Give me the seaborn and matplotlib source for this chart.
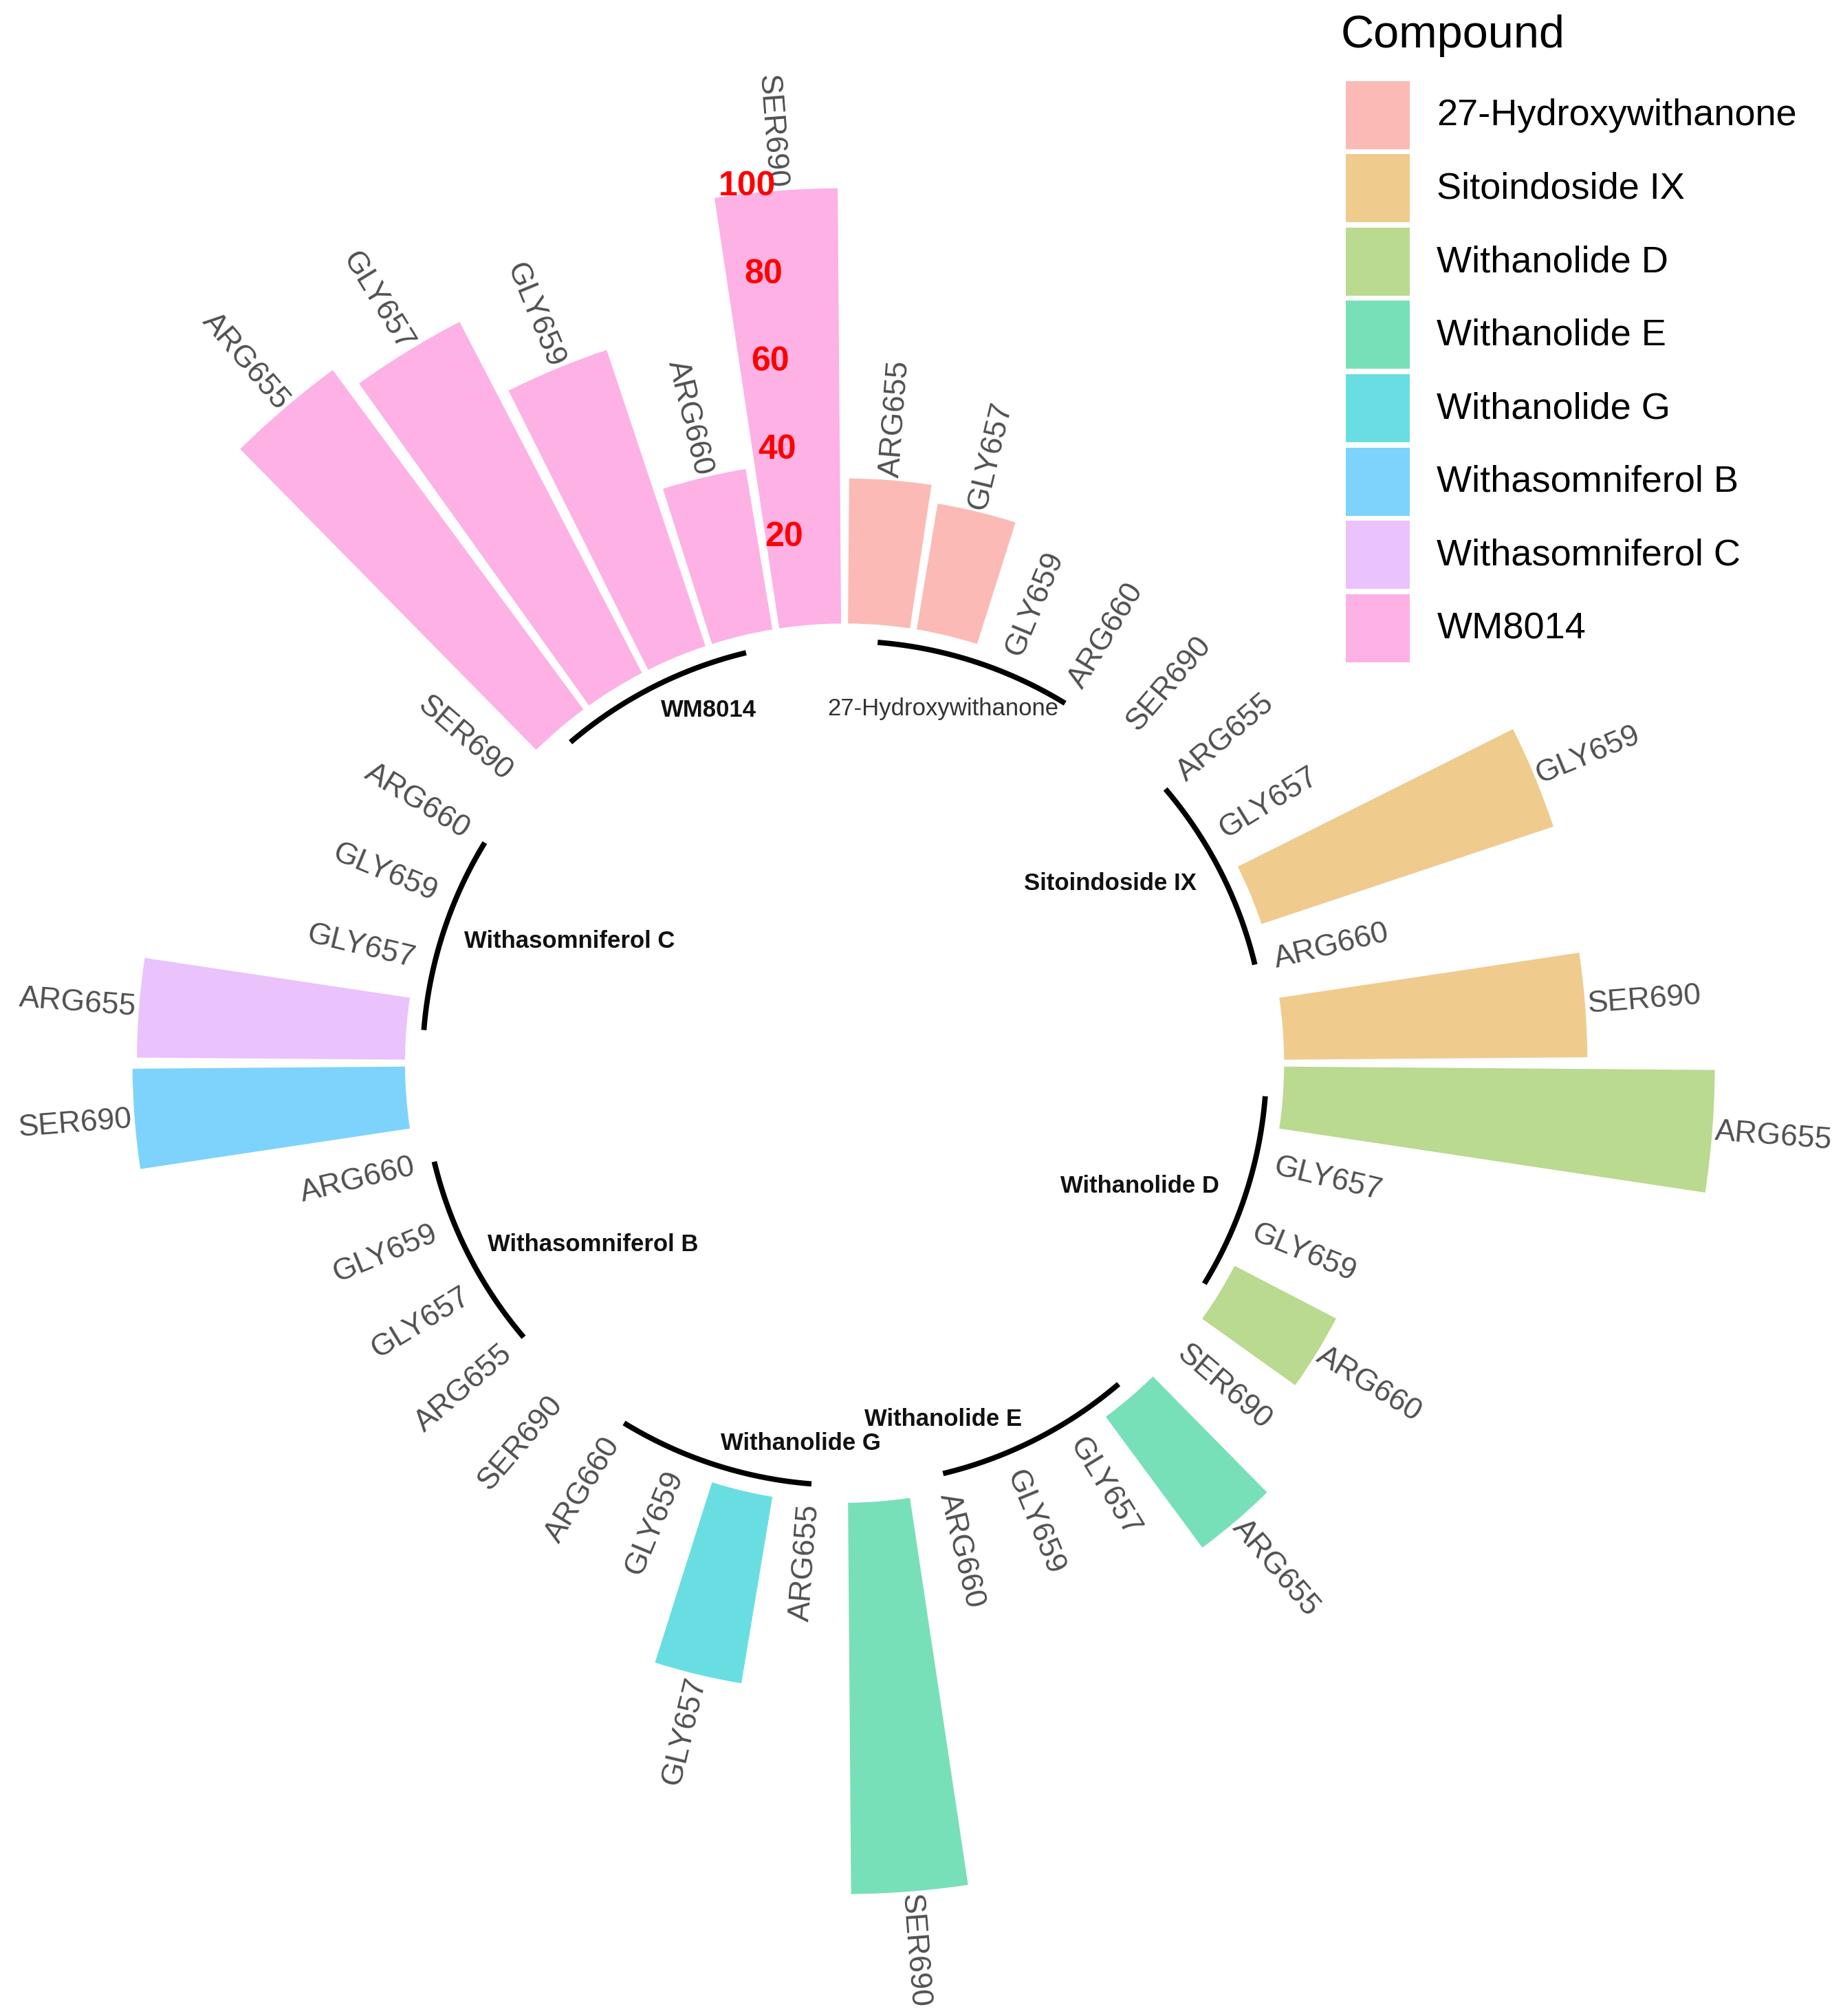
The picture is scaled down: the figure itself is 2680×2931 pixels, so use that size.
import numpy as np
import pandas as pd
import matplotlib
matplotlib.use('Agg')
import matplotlib.pyplot as plt
import seaborn as sns
from matplotlib.patches import Rectangle

sns.set_theme(style='white')
plt.rcParams['font.family'] = ['Liberation Sans', 'DejaVu Sans']

# ====
# DATA
# ====
compounds = ['27-Hydroxywithanone', 'Sitoindoside IX', 'Withanolide D',
             'Withanolide E', 'Withanolide G', 'Withasomniferol B',
             'Withasomniferol C', 'WM8014']
residues = ['ARG655', 'GLY657', 'GLY659', 'ARG660', 'SER690']

hydroxywithanone = [33, 29, 0, 0, 0]
sitoindoside_ix = [0, 0, 70, 0, 69]
withanolide_d = [98, 0, 0, 26, 0]
withanolide_e = [37, 0, 0, 0, 89]
withanolide_g = [0, 43, 0, 0, 0]
withasomniferol_b = [0, 0, 0, 0, 62]
withasomniferol_c = [61, 0, 0, 0, 0]
wm8014 = [96, 90, 71, 37, 99]

scale_ticks = [20, 40, 60, 80, 100]

# light (half transparent looking) ggplot hues
fill_colors = ['#FBBAB5', '#F0CB8E', '#B9DA8F', '#78E0B8',
               '#68DEE2', '#7DD3FC', '#EAC2FC', '#FDB1E4']

# =============
# BUILD A TABLE
# =============
values = [hydroxywithanone, sitoindoside_ix, withanolide_d, withanolide_e,
          withanolide_g, withasomniferol_b, withasomniferol_c, wm8014]

rows = []
for compound, vals in zip(compounds, values):
    for residue, v in zip(residues, vals):
        rows.append({'compound': compound, 'residue': residue, 'value': v})
df = pd.DataFrame(rows)
n_bars = df.shape[0]
step = 2 * np.pi / n_bars
df['theta'] = (np.arange(n_bars) + 0.5) * step

palette = dict(zip(compounds, fill_colors))

# ======
# FIGURE
# ======
fig = plt.figure(figsize=(13.4, 14.655), dpi=200)
ax = fig.add_axes([-0.0426, 0.0146, 1.0017, 0.9161], projection='polar')
ax.set_theta_zero_location('N')
ax.set_theta_direction(-1)

sns.barplot(data=df, x='theta', y='value', hue='compound',
            hue_order=compounds, palette=palette, native_scale=True,
            dodge=False, width=0.9, errorbar=None, saturation=1,
            linewidth=0, legend=False, ax=ax)

ax.set_ylim(-100, 110)
ax.axis('off')

# residue labels, radial like the ggplot circular barplot
for _, row in df.iterrows():
    deg = np.degrees(row['theta'])
    rot = 90 - deg
    ha = 'left'
    if rot < -90:
        rot += 180
        ha = 'right'
    ax.text(row['theta'], row['value'] + 0.6, row['residue'], rotation=rot,
            rotation_mode='anchor', ha=ha, va='center', fontsize=16,
            color='#505050')

# group arcs under each compound
for i, compound in enumerate(compounds):
    th = np.linspace((5 * i + 0.5) * step, (5 * i + 3.5) * step, 60)
    ax.plot(th, np.full_like(th, -4), color='black', lw=2.8,
            solid_capstyle='butt')

# group names (placed by hand like the original)
label_pos = [(15.5, -16.4), (55.9, -27), (112.6, -27.2), (164.5, -16),
             (186.6, -12.9), (234.2, -29.5), (293.9, -31.6), (338.9, -14)]
for compound, (deg, r) in zip(compounds, label_pos):
    if compound == '27-Hydroxywithanone':
        ax.text(np.radians(deg), r, compound, ha='center', va='center',
                fontsize=12.5, color='#333333')
    else:
        ax.text(np.radians(deg), r, compound, ha='center', va='center',
                fontsize=12.5, fontweight='bold', color='#111111')

# red scale labels
for t in scale_ticks:
    ax.text(df['theta'].iloc[-1], t, str(t), color='red', fontweight='bold',
            fontsize=18, ha='right', va='center')

# legend, drawn by hand to get the big ggplot keys
W, H = 1434.0, 1568.0
fig.text(1043 / W, 1 - 28 / H, 'Compound', fontsize=24, ha='left',
         va='center', color='black')
for i, compound in enumerate(compounds):
    top = 63 + 57 * i
    fig.add_artist(Rectangle((1047 / W, 1 - (top + 53) / H), 50 / W, 53 / H,
                             transform=fig.transFigure,
                             facecolor=palette[compound], edgecolor='none'))
    fig.text(1118 / W, 1 - (top + 27) / H, compound, fontsize=19.5,
             ha='left', va='center', color='black')

plt.savefig('out.png', dpi=200)
plt.close()
